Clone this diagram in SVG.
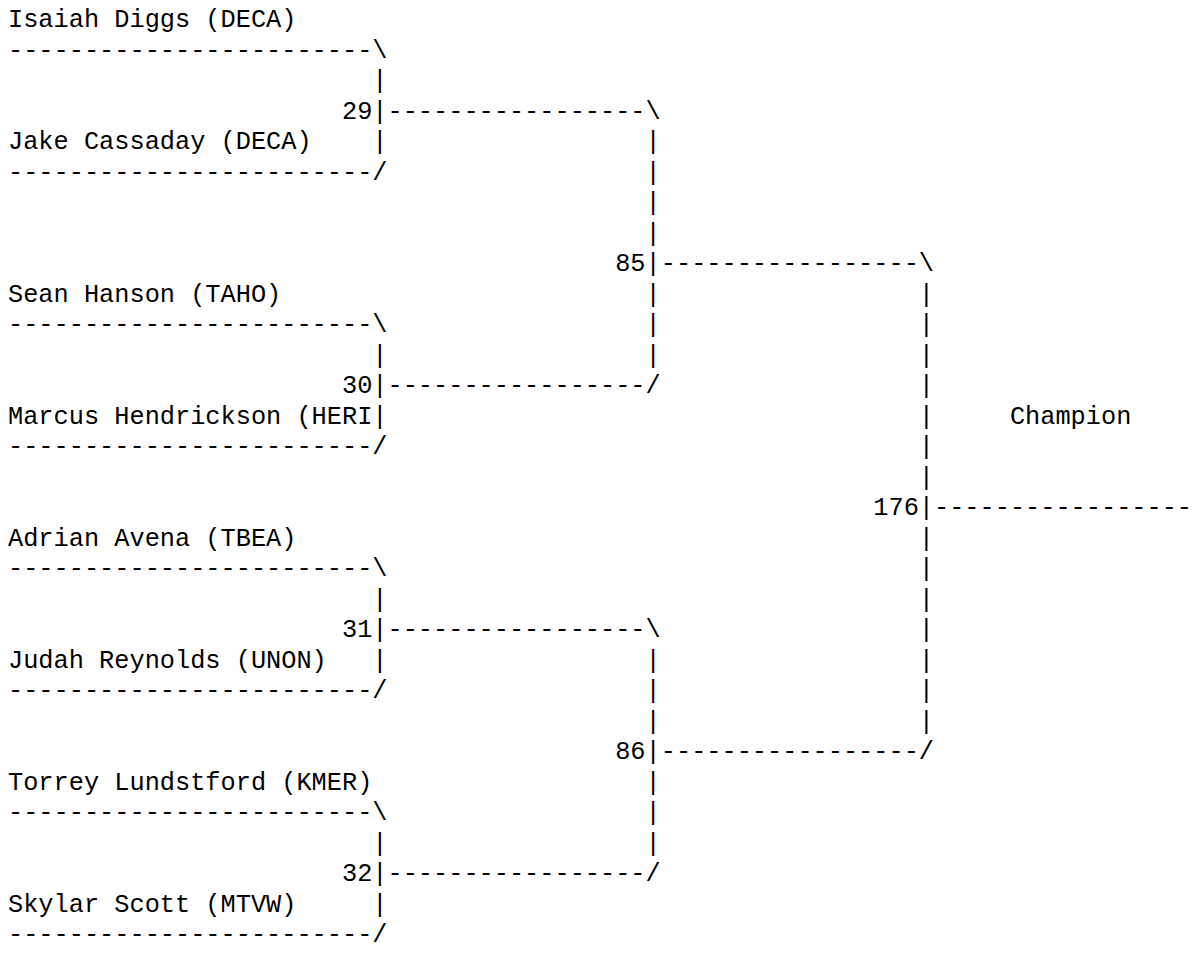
<svg xmlns="http://www.w3.org/2000/svg" width="1192" height="958" viewBox="0 0 1192 958">
<style>
text{font-family:"Liberation Mono","DejaVu Sans Mono",monospace;font-size:25.3px;fill:#000;white-space:pre}
</style>
<rect width="1192" height="958" fill="#fff"/>
<g id="connectors">
<text x="8" y="57.5">------------------------\</text>
<text x="372.3" y="88">|</text>
<text x="372.3" y="118.5">|-----------------\</text>
<text x="372.3 645.6" y="149">||</text>
<text x="8" y="179.5">------------------------/</text>
<text x="645.6" y="179.5">|</text>
<text x="645.6" y="210">|</text>
<text x="645.6" y="240.5">|</text>
<text x="645.6" y="271">|-----------------\</text>
<text x="645.6 918.8" y="301.5">||</text>
<text x="8" y="332">------------------------\</text>
<text x="645.6 918.8" y="332">||</text>
<text x="372.3 645.6 918.8" y="362.5">|||</text>
<text x="372.3" y="393">|-----------------/</text>
<text x="918.8" y="393">|</text>
<text x="372.3 918.8" y="423.5">||</text>
<text x="8" y="454">------------------------/</text>
<text x="918.8" y="454">|</text>
<text x="918.8" y="484.5">|</text>
<text x="918.8" y="515">|-----------------</text>
<text x="918.8" y="545.5">|</text>
<text x="8" y="576">------------------------\</text>
<text x="918.8" y="576">|</text>
<text x="372.3 918.8" y="606.5">||</text>
<text x="372.3" y="637">|-----------------\</text>
<text x="918.8" y="637">|</text>
<text x="372.3 645.6 918.8" y="667.5">|||</text>
<text x="8" y="698">------------------------/</text>
<text x="645.6 918.8" y="698">||</text>
<text x="645.6 918.8" y="728.5">||</text>
<text x="645.6" y="759">|-----------------/</text>
<text x="645.6" y="789.5">|</text>
<text x="8" y="820">------------------------\</text>
<text x="645.6" y="820">|</text>
<text x="372.3 645.6" y="850.5">||</text>
<text x="372.3" y="881">|-----------------/</text>
<text x="372.3" y="911.5">|</text>
<text x="8" y="942">------------------------/</text>
</g>
<g id="p-isaiah-diggs"><text x="8" y="27">Isaiah Diggs (DECA)</text></g>
<g id="p-jake-cassaday"><text x="8" y="149">Jake Cassaday (DECA)</text></g>
<g id="p-sean-hanson"><text x="8" y="301.5">Sean Hanson (TAHO)</text></g>
<g id="p-marcus-hendrickson"><text x="8" y="423.5">Marcus Hendrickson (HERI</text></g>
<g id="p-adrian-avena"><text x="8" y="545.5">Adrian Avena (TBEA)</text></g>
<g id="p-judah-reynolds"><text x="8" y="667.5">Judah Reynolds (UNON)</text></g>
<g id="p-torrey-lundstford"><text x="8" y="789.5">Torrey Lundstford (KMER)</text></g>
<g id="p-skylar-scott"><text x="8" y="911.5">Skylar Scott (MTVW)</text></g>
<g id="m29"><text x="342" y="118.5">29</text></g>
<g id="m30"><text x="342" y="393">30</text></g>
<g id="m31"><text x="342" y="637">31</text></g>
<g id="m32"><text x="342" y="881">32</text></g>
<g id="m85"><text x="615.2" y="271">85</text></g>
<g id="m86"><text x="615.2" y="759">86</text></g>
<g id="m176"><text x="873.3" y="515">176</text></g>
<g id="champion"><text x="1009.9" y="423.5">Champion</text></g>
</svg>
